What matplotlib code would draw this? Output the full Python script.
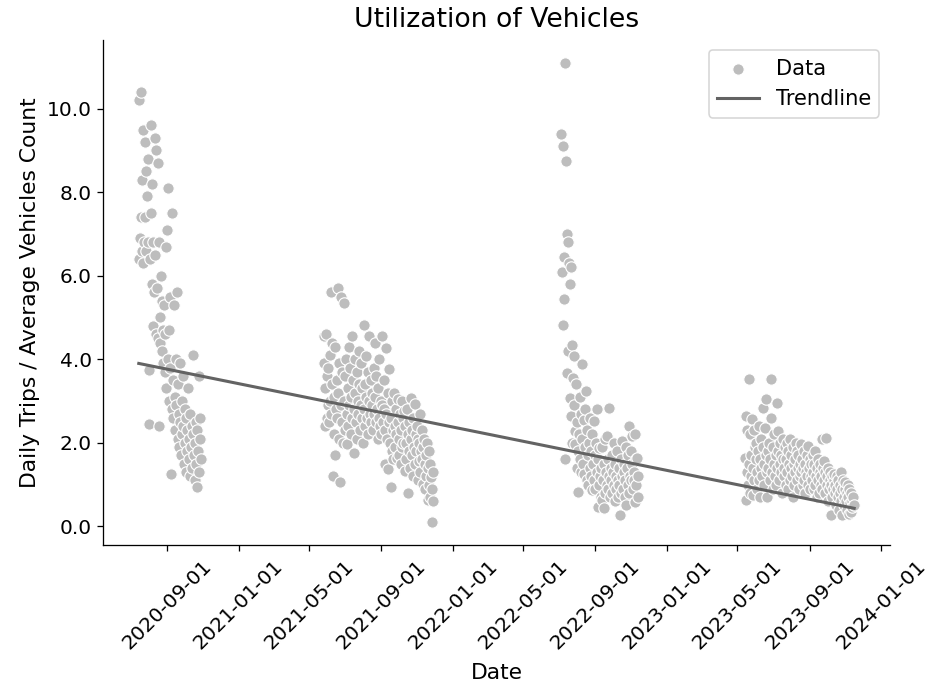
import numpy as np
import pandas as pd
import matplotlib
matplotlib.use("Agg")
import matplotlib.pyplot as plt
import matplotlib.dates as mdates
import matplotlib.ticker as mticker

# Daily utilisation (trips per average vehicle count) for four operating seasons
season_starts = ["2020-07-15", "2021-05-26", "2022-07-05", "2023-05-14"]

season_2020 = [
    6.4, 10.2, 6.9, 7.4, 10.4, 6.6, 8.3, 6.3, 9.5, 6.8, 7.4,
    9.2, 6.6, 8.5, 7.9, 6.8, 8.8, 3.75, 2.45, 6.4, 7.5,
    9.6, 5.8, 8.2, 6.8, 4.8, 5.6, 9.3, 6.5, 4.6, 9.0,
    5.7, 4.5, 8.7, 6.8, 2.4, 4.4, 5.0, 6.0, 4.2, 5.4,
    4.7, 3.9, 5.3, 3.7, 4.6, 6.7, 3.3, 7.1, 4.0, 8.1,
    4.7, 3.0, 5.5, 3.8, 1.25, 2.8, 7.5, 3.5, 2.6, 5.3,
    3.1, 2.3, 4.0, 2.9, 5.6, 2.1, 3.4, 2.7, 1.9, 3.9,
    2.5, 1.7, 3.0, 2.2, 3.6, 2.4, 1.5, 2.8, 2.0, 1.3,
    2.6, 1.8, 2.3, 3.3, 1.6, 2.1, 1.2, 2.7, 1.9, 2.4,
    1.4, 2.2, 4.1, 1.7, 2.0, 1.1, 2.5, 1.5, 0.95, 2.3,
    1.8, 3.6, 1.3, 2.1, 2.6, 1.6,
]

season_2021 = [
    3.9, 4.55, 2.4, 3.3, 4.6, 2.6, 3.6, 2.9, 3.8, 2.5, 4.1, 3.0, 5.6, 2.7, 4.4, 3.4, 1.2,
    2.2, 3.1, 1.7, 4.3, 2.8, 3.5, 2.6, 5.7, 3.2, 2.1, 3.9, 1.05, 2.9, 5.5, 3.7, 2.5, 2.0,
    5.35, 3.0, 2.3, 3.6, 4.0, 2.7, 1.98, 3.3, 2.4, 4.3, 2.9, 3.8, 2.2, 3.1, 4.55, 2.6, 3.5,
    1.76, 2.8, 3.2, 4.0, 2.5, 3.7, 2.1, 3.0, 2.7, 3.4, 4.2, 2.3, 3.9, 2.9, 2.6, 3.3, 2.0,
    4.83, 2.8, 3.4, 2.4, 4.07, 3.1, 2.6, 3.7, 2.2, 3.0, 4.55, 2.7, 3.5, 2.5, 3.2, 2.9, 2.3,
    3.8, 2.7, 4.4, 3.1, 2.5, 3.6, 2.8, 2.1, 3.3, 2.6, 4.0, 2.4, 3.0, 2.2, 4.55, 2.9, 2.5,
    2.8, 3.5, 2.3, 1.5, 4.26, 2.7, 2.1, 3.2, 1.38, 2.5, 3.76, 2.0, 0.93, 2.6, 1.8, 3.0, 2.3,
    1.6, 3.19, 2.4, 1.9, 2.8, 2.2, 1.64, 3.05, 2.5, 1.7, 2.1, 2.7, 1.5, 2.3, 3.0, 1.9, 2.6, 2.0,
    2.76, 1.33, 2.4, 2.0, 1.6, 2.8, 2.2, 0.79, 1.8, 2.5, 1.4, 3.07, 2.1, 1.7, 2.3, 1.2, 2.6,
    1.9, 2.93, 1.5, 2.2, 1.8, 2.4, 1.1, 2.1, 1.57, 2.0, 2.7, 1.3, 1.81, 2.3, 1.6, 1.02, 1.9, 2.1,
    1.5, 0.9, 1.7, 1.2, 2.0, 0.62, 1.4, 1.8, 1.0, 0.7, 1.5, 1.17, 0.1, 0.9, 1.3, 0.6,
]

season_2022 = [
    9.4, 6.1, 4.83, 9.1, 6.45, 5.45, 1.62, 11.1, 8.75, 3.67, 7.0, 6.8, 4.2, 6.3, 5.8, 3.07, 2.64, 6.2,
    4.35, 2.0, 3.55, 4.07, 2.9, 1.98, 2.29, 3.4, 1.4, 2.5, 1.8, 0.81, 2.2, 3.1, 1.6, 2.7, 1.3,
    3.88, 2.1, 1.5, 2.55, 1.26, 2.81, 1.9, 3.24, 1.1, 2.3, 1.7, 1.0, 2.0, 1.4, 2.6, 1.2, 1.8,
    2.2, 0.86, 1.5, 2.52, 1.1, 1.7, 0.9, 2.0, 1.3, 2.81, 0.45, 1.6, 1.0, 1.88, 1.2, 0.7, 1.4,
    0.62, 1.9, 1.1, 0.43, 1.5, 2.1, 0.8, 1.3, 1.0, 2.17, 1.6, 0.9, 1.2, 2.83, 0.7, 1.4, 1.1,
    1.7, 0.8, 1.3, 2.0, 1.0, 0.6, 1.5, 1.2, 0.9, 1.8, 1.1, 0.69, 1.4, 1.0, 0.26, 1.6, 0.8,
    2.05, 1.2, 0.9, 1.5, 1.3, 0.7, 1.1, 1.9, 0.5, 1.4, 1.0, 1.7, 2.4, 0.8, 1.2, 1.81, 1.1,
    2.17, 1.5, 0.9, 1.3, 1.1, 2.2, 0.57, 1.6, 1.0, 1.64, 0.7, 1.2,
]

season_2023 = [
    1.64, 2.64, 0.62, 1.3, 2.3, 1.0, 3.52, 1.5, 0.8, 2.2, 1.2, 1.7, 2.57, 0.74, 1.4, 2.3, 1.1, 1.9, 1.6,
    2.0, 1.3, 0.9, 1.8, 2.4, 1.1, 1.6, 0.7, 2.1, 1.4, 1.2, 1.9, 2.83, 1.0, 1.5, 2.36, 1.7, 3.05, 1.3,
    0.69, 1.8, 1.4, 2.0, 1.1, 1.6, 3.52, 2.6, 1.3, 1.9, 0.9, 1.5, 2.2, 1.2, 1.7, 1.0, 2.95, 1.4, 2.29,
    1.8, 1.1, 1.5, 2.0, 1.3, 1.7, 0.8, 1.6, 2.1, 1.2, 1.4, 1.9, 1.0, 1.6, 2.0, 1.3, 0.9, 1.8, 1.5,
    1.1, 2.1, 1.4, 1.7, 1.2, 0.7, 1.9, 1.5, 1.0, 1.6, 1.3, 2.0, 1.8, 1.1, 1.4, 1.7, 0.9, 1.5, 1.2,
    1.98, 1.3, 1.6, 1.0, 1.4, 1.8, 1.1, 1.5, 0.8, 1.3, 1.7, 1.2, 1.93, 1.0, 1.4, 1.6, 0.9, 1.2, 1.5,
    1.1, 1.7, 1.3, 0.9, 1.5, 1.81, 1.0, 1.2, 0.7, 1.4, 1.6, 1.1, 0.8, 1.3, 1.5, 1.0, 1.2, 2.1, 0.9,
    1.4, 1.57, 1.1, 0.8, 1.3, 2.12, 1.0, 1.2, 0.6, 1.4, 0.9, 1.1, 1.3, 0.26, 1.0, 0.7, 1.2, 0.9, 1.1,
    1.26, 0.8, 1.0, 0.5, 1.2, 0.9, 0.7, 1.1, 0.4, 1.0, 0.8, 1.3, 0.6, 0.9, 0.26, 1.1, 0.7, 0.5, 0.9,
    1.05, 0.6, 0.8, 0.4, 1.0, 0.7, 0.3, 0.9, 0.55, 0.8, 0.33, 0.6, 0.45, 0.7, 0.5,
]

seasons = [season_2020, season_2021, season_2022, season_2023]

# Linear trendline: value at the first and at the last observed day
trend_dates = ["2020-07-15", "2023-11-16"]
trend_values = [3.9, 0.43]

frames = []
for start, values in zip(season_starts, seasons):
    dates = pd.date_range(start, periods=len(values), freq="D")
    frames.append(pd.DataFrame({"Date": dates, "Utilization": values}))
df = pd.concat(frames, ignore_index=True)

fig, ax = plt.subplots(figsize=(8, 5.95), dpi=116)
fig.subplots_adjust(left=0.111, right=0.959, bottom=0.21, top=0.942)

ax.scatter(df["Date"], df["Utilization"], s=50, color="#bdbdbd",
           edgecolors="white", linewidths=0.7, label="Data", zorder=2)
ax.plot(pd.to_datetime(trend_dates), trend_values, color="#636363",
        linewidth=1.9, label="Trendline", zorder=3)

ax.set_title("Utilization of Vehicles", fontsize=16.5, pad=8)
ax.set_xlabel("Date", fontsize=13.5, labelpad=6)
ax.set_ylabel("Daily Trips / Average Vehicles Count", fontsize=13.5)
ax.xaxis.set_major_locator(mdates.MonthLocator(bymonth=[1, 5, 9]))
ax.xaxis.set_major_formatter(mdates.DateFormatter("%Y-%m-%d"))
ax.yaxis.set_major_formatter(mticker.FormatStrFormatter("%.1f"))
ax.tick_params(labelsize=12.5)
plt.setp(ax.get_xticklabels(), rotation=45, ha="center")
ax.legend(loc="upper right", fontsize=13)
for side in ("top", "right"):
    ax.spines[side].set_visible(False)

fig.savefig("out.png", dpi=116)
